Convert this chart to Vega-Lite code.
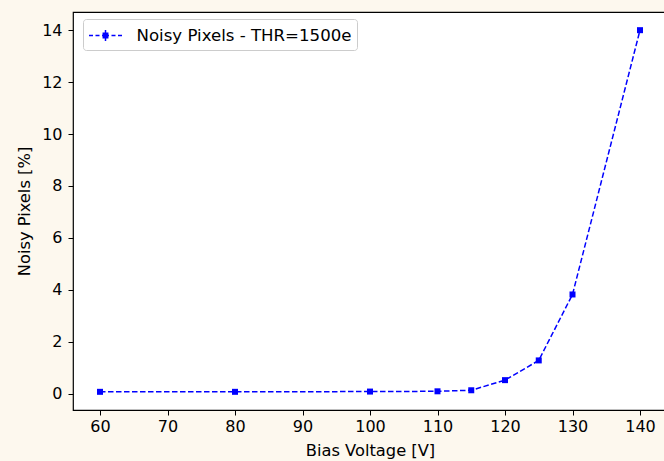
{
  "$schema": "https://vega.github.io/schema/vega-lite/v6.json",
  "autosize": "none",
  "padding": {"left": 73, "top": 12, "right": 0, "bottom": 51},
  "width": 594,
  "height": 398,
  "background": "#fdf8ee",
  "config": {
    "font": "DejaVu Sans",
    "view": {"fill": "white", "stroke": "black", "strokeWidth": 1.2},
    "axis": {
      "domain": false,
      "grid": false,
      "tickColor": "black",
      "tickSize": 5,
      "tickWidth": 1,
      "labelColor": "black",
      "labelFontSize": 16,
      "labelFont": "DejaVu Sans",
      "titleFont": "DejaVu Sans",
      "titleFontSize": 16.3,
      "titleFontWeight": "normal",
      "titleColor": "black"
    }
  },
  "data": {
    "values": [
      {"bias": 60, "noisy": 0.07, "series": "Noisy Pixels - THR=1500e"},
      {"bias": 80, "noisy": 0.07, "series": "Noisy Pixels - THR=1500e"},
      {"bias": 100, "noisy": 0.08, "series": "Noisy Pixels - THR=1500e"},
      {"bias": 110, "noisy": 0.09, "series": "Noisy Pixels - THR=1500e"},
      {"bias": 115, "noisy": 0.13, "series": "Noisy Pixels - THR=1500e"},
      {"bias": 120, "noisy": 0.52, "series": "Noisy Pixels - THR=1500e"},
      {"bias": 125, "noisy": 1.28, "series": "Noisy Pixels - THR=1500e"},
      {"bias": 130, "noisy": 3.82, "series": "Noisy Pixels - THR=1500e"},
      {"bias": 140, "noisy": 14.0, "series": "Noisy Pixels - THR=1500e"}
    ]
  },
  "encoding": {
    "x": {
      "field": "bias",
      "type": "quantitative",
      "scale": {"domain": [56, 144], "nice": false, "zero": false},
      "axis": {"values": [60, 70, 80, 90, 100, 110, 120, 130, 140], "title": "Bias Voltage [V]", "labelPadding": 3, "titlePadding": 8}
    },
    "y": {
      "field": "noisy",
      "type": "quantitative",
      "scale": {"domain": [-0.63, 14.7], "nice": false, "zero": false},
      "axis": {"values": [0, 2, 4, 6, 8, 10, 12, 14], "title": "Noisy Pixels [%]", "labelPadding": 6, "titlePadding": 9}
    }
  },
  "layer": [
    {
      "mark": {"type": "line", "strokeDash": [5.5, 2.5], "strokeWidth": 1.5, "color": "#0000ff"},
      "encoding": {
        "color": {
          "field": "series",
          "type": "nominal",
          "scale": {"range": ["#0000ff"]},
          "legend": {
            "title": null,
            "orient": "none",
            "legendX": 10,
            "legendY": 7,
            "padding": 5.5,
            "fillColor": "white",
            "strokeColor": "#cccccc",
            "cornerRadius": 3,
            "labelFontSize": 16.6,
            "labelFont": "DejaVu Sans",
            "labelColor": "black",
            "labelLimit": 0,
            "labelOffset": 20,
            "symbolOffset": 6,
            "symbolSize": 400,
            "symbolType": "M-1.65,0H-1.25M-1.0,0H-0.6M-0.35,0H0.35M0.6,0H1.0M1.25,0H1.65M-0.22,-0.22H0.22V0.22H-0.22ZM0,-0.55V0.55",
            "symbolFillColor": "#0000ff",
            "symbolStrokeColor": "#0000ff",
            "symbolStrokeWidth": 1.5
          }
        }
      }
    },
    {
      "mark": {"type": "point", "shape": "square", "filled": true, "size": 36, "color": "#0000ff", "opacity": 1}
    }
  ]
}
